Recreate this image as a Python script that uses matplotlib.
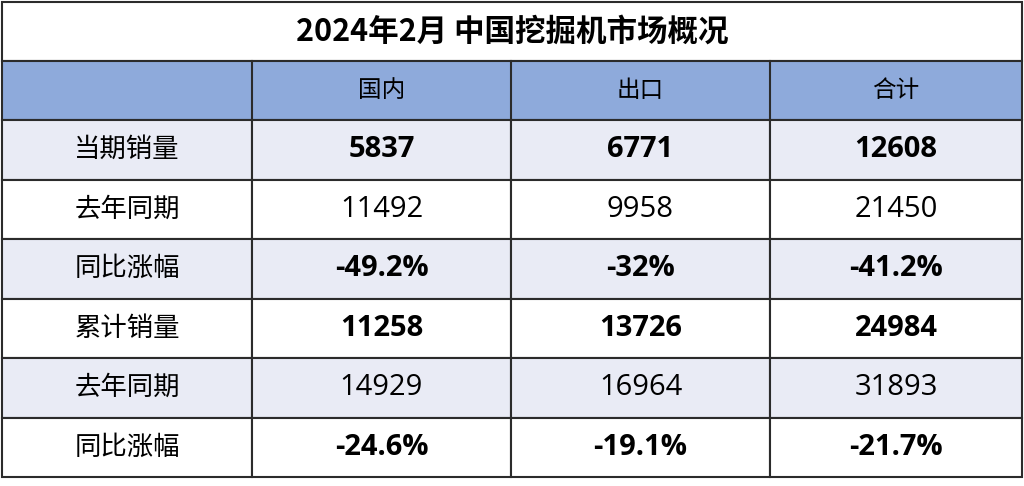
import matplotlib.pyplot as plt
from matplotlib.patches import Rectangle

plt.rcParams['font.family'] = ['Noto Sans CJK SC', 'DejaVu Sans']

title = "2024年2月 中国挖掘机市场概况"
columns = ["国内", "出口", "合计"]
row_labels = ["当期销量", "去年同期", "同比涨幅", "累计销量", "去年同期", "同比涨幅"]
domestic = ["5837", "11492", "-49.2%", "11258", "14929", "-24.6%"]
export = ["6771", "9958", "-32%", "13726", "16964", "-19.1%"]
total = ["12608", "21450", "-41.2%", "24984", "31893", "-21.7%"]
bold_rows = [True, False, True, True, False, True]

col_x = [2, 252, 511, 770, 1022]
row_h = 59.5
top_title, top_head, top_body = 2, 61, 120

fig = plt.figure(figsize=(10.24, 4.86), dpi=100)
ax = fig.add_axes([0, 0, 1, 1])
ax.set_xlim(0, 1024)
ax.set_ylim(486, 0)
ax.axis("off")

lc = "#2b2b2b"
ax.add_patch(Rectangle((col_x[0], top_title), col_x[-1] - col_x[0], top_head - top_title,
                       facecolor="white", edgecolor=lc, lw=1.5))
ax.text(512, (top_title + top_head) / 2, title, ha="center", va="center",
        fontsize=22, fontweight="bold", color="black")

ax.add_patch(Rectangle((col_x[0], top_head), col_x[-1] - col_x[0], top_body - top_head,
                       facecolor="#8eaadb", edgecolor=lc, lw=1.5))
for i, c in enumerate(columns):
    x0, x1 = col_x[i + 1], col_x[i + 2]
    ax.plot([x0, x0], [top_head, top_body], color=lc, lw=1.5)
    ax.text((x0 + x1) / 2, (top_head + top_body) / 2, c, ha="center", va="center",
            fontsize=17, fontweight="medium", color="black")

for r in range(len(row_labels)):
    y0 = top_body + r * row_h
    fc = "#e9ebf5" if r % 2 == 0 else "white"
    cells = [row_labels[r], domestic[r], export[r], total[r]]
    for j in range(4):
        ax.add_patch(Rectangle((col_x[j], y0), col_x[j + 1] - col_x[j], row_h,
                               facecolor=fc, edgecolor=lc, lw=1.5))
        if j == 0:
            ax.text((col_x[j] + col_x[j + 1]) / 2, y0 + row_h / 2, cells[j],
                    ha="center", va="center", fontsize=19, fontweight="medium", color="black")
        else:
            w = "bold" if bold_rows[r] else "normal"
            ax.text((col_x[j] + col_x[j + 1]) / 2, y0 + row_h / 2, cells[j],
                    ha="center", va="center", fontsize=21, fontweight=w, color="black",
                    family=["Open Sans", "DejaVu Sans"])

fig.savefig("out.png", dpi=100)
